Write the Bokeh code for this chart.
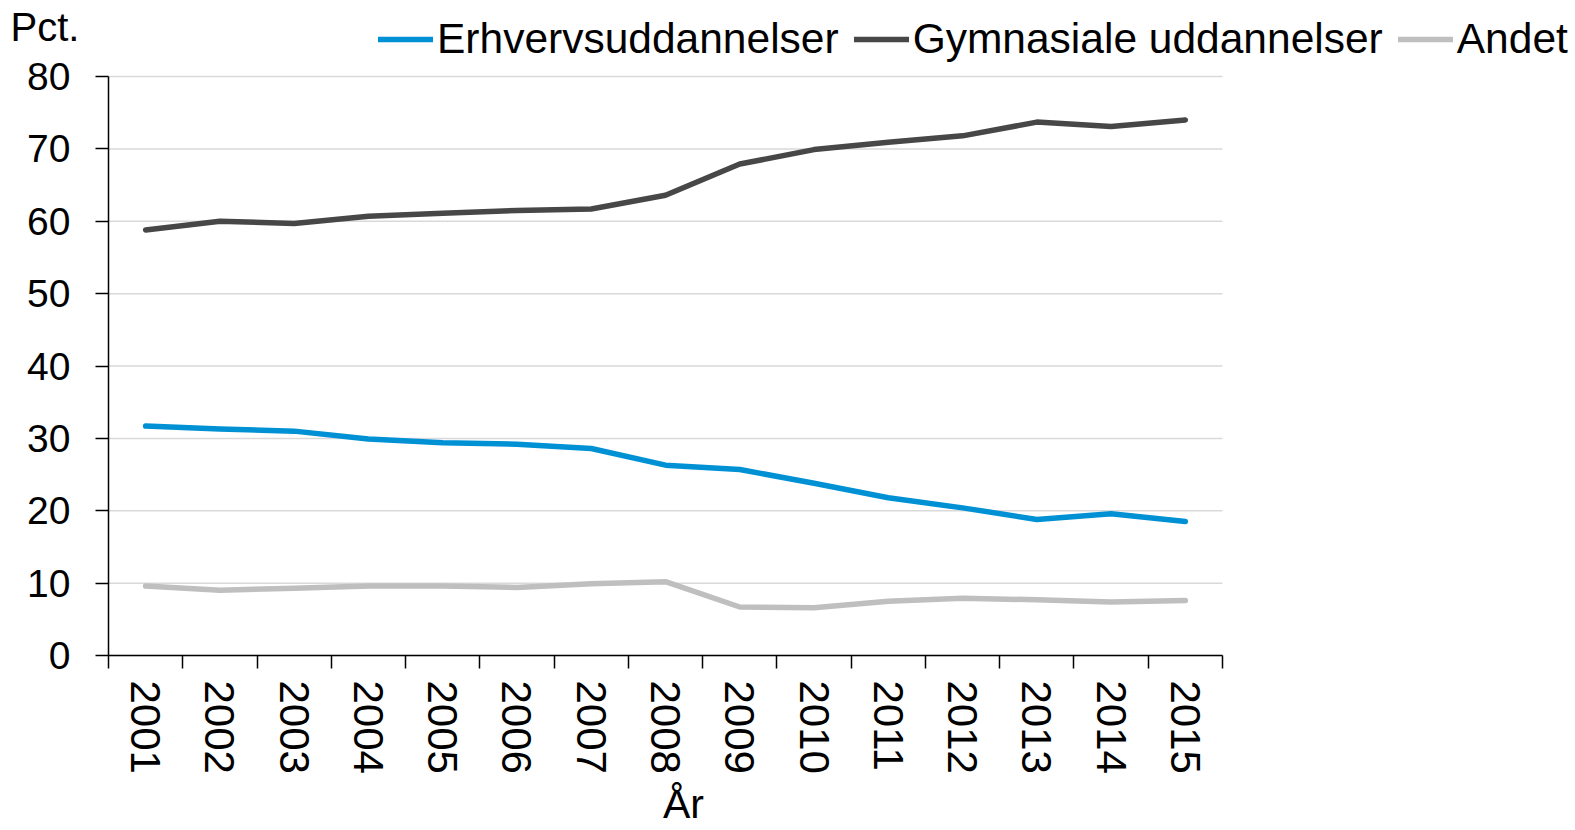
import math
from bokeh.plotting import figure
from bokeh.models import Range1d, FixedTicker, Legend, LegendItem, Label
from bokeh.embed import file_html
from bokeh.resources import INLINE

years = ["2001", "2002", "2003", "2004", "2005", "2006", "2007", "2008",
         "2009", "2010", "2011", "2012", "2013", "2014", "2015"]
erhverv = [31.7, 31.3, 31.0, 29.9, 29.4, 29.2, 28.6, 26.3, 25.7, 23.8, 21.8, 20.4, 18.8, 19.6, 18.5]
gymnasiale = [58.8, 60.0, 59.7, 60.7, 61.1, 61.5, 61.7, 63.6, 67.9, 69.9, 70.9, 71.8, 73.7, 73.1, 74.0]
andet = [9.6, 9.0, 9.3, 9.6, 9.6, 9.4, 9.9, 10.2, 6.7, 6.6, 7.5, 7.9, 7.7, 7.4, 7.6]
series_names = ["Erhvervsuddannelser", "Gymnasiale uddannelser", "Andet"]
y_ticks = [0, 10, 20, 30, 40, 50, 60, 70, 80]
y_unit = "Pct."
x_title = "År"

FONT = "Liberation Sans"
colors = ["#0091d5", "#474747", "#bfbfbf"]

# ---- layout (pixels) ----
W, H = 1572, 830
PLOT_L, PLOT_R, PLOT_T, PLOT_B = 108, 1222, 76, 655
n = len(years)
x_lo, x_hi = 0.5, n + 0.5
y_lo, y_hi = 0, 80
xpx = (PLOT_R - PLOT_L) / (x_hi - x_lo)
ypx = (PLOT_B - PLOT_T) / (y_hi - y_lo)
x_range = Range1d(x_lo - PLOT_L / xpx, x_hi + (W - PLOT_R) / xpx)
y_range = Range1d(y_lo - (H - PLOT_B) / ypx, y_hi + PLOT_T / ypx)

xs = list(range(1, n + 1))

p = figure(frame_width=W, frame_height=H,
           min_border_left=0, min_border_right=0, min_border_top=0, min_border_bottom=0,
           x_range=x_range, y_range=y_range,
           output_backend="svg", toolbar_location=None)
p.outline_line_color = None
p.background_fill_color = "white"
p.border_fill_color = "white"

# horizontal gridlines limited to plot area
p.xgrid.visible = False
p.ygrid.visible = False
p.segment(x0=[x_lo] * len(y_ticks), x1=[x_hi] * len(y_ticks), y0=y_ticks, y1=y_ticks,
          line_color="#d9d9d9", line_width=1.5)

renderers = []
for vals, col in zip([erhverv, gymnasiale, andet], colors):
    r = p.line(xs, vals, line_color=col, line_width=5.5, line_cap="round", line_join="round")
    renderers.append(r)

# x axis
xa = p.xaxis[0]
xa.fixed_location = y_lo
xa.bounds = (x_lo, x_hi)
xa.ticker = FixedTicker(ticks=xs, minor_ticks=[i + 0.5 for i in range(0, n + 1)])
xa.major_label_overrides = {x: y for x, y in zip(xs, years)}
xa.major_label_orientation = -math.pi / 2
xa.major_tick_out = 0
xa.major_tick_in = 0
xa.minor_tick_out = 13
xa.minor_tick_in = 0
xa.minor_tick_line_color = "black"
xa.minor_tick_line_width = 1.5
xa.axis_line_color = "black"
xa.axis_line_width = 1.5
xa.major_label_text_font = FONT
xa.major_label_text_font_size = "42px"
xa.major_label_text_color = "black"
xa.major_label_standoff = 12

# y axis
ya = p.yaxis[0]
ya.fixed_location = x_lo
ya.bounds = (y_lo, y_hi)
ya.ticker = FixedTicker(ticks=y_ticks)
ya.major_tick_out = 13
ya.major_tick_in = 0
ya.minor_tick_out = 0
ya.minor_tick_in = 0
ya.major_tick_line_color = "black"
ya.major_tick_line_width = 1.5
ya.axis_line_color = "black"
ya.axis_line_width = 1.5
ya.major_label_text_font = FONT
ya.major_label_text_font_size = "39px"
ya.major_label_text_color = "black"
ya.major_label_standoff = 25

legend = Legend(items=[LegendItem(label=nm, renderers=[r]) for nm, r in zip(series_names, renderers)],
                orientation="horizontal", location=(378, H - 63),
                label_text_font=FONT, label_text_font_size="42.5px", label_text_color="black",
                glyph_width=55, glyph_height=40, label_standoff=4, spacing=15,
                padding=0, margin=0, border_line_color=None, background_fill_alpha=0)
p.add_layout(legend, "center")

pct = Label(x=10, y=H - 26, x_units="screen", y_units="screen", text=y_unit,
            text_font=FONT, text_font_size="40px", text_color="black",
            text_baseline="alphabetic", text_align="left")
p.add_layout(pct)

aar = Label(x=683, y=H - 803, x_units="screen", y_units="screen", text=x_title,
            text_font=FONT, text_font_size="41px", text_color="black",
            text_baseline="alphabetic", text_align="center")
p.add_layout(aar)

open("out.html", "w").write(file_html(p, INLINE))
